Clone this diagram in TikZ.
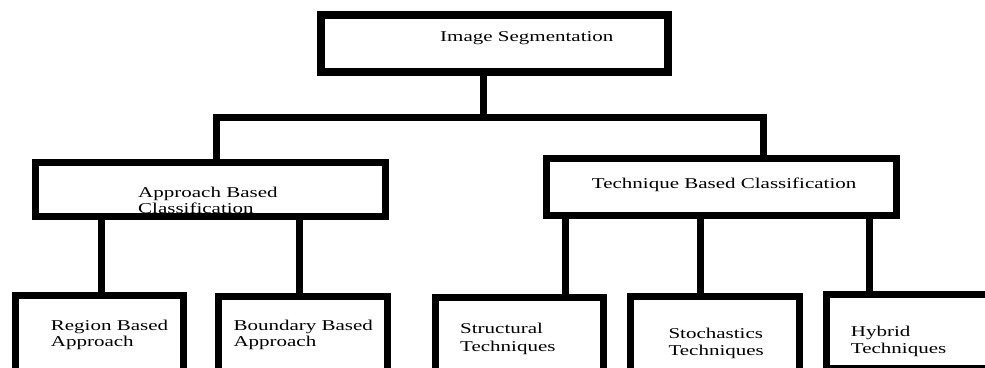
\documentclass[tikz,border=0pt]{standalone}
\usepackage{fontspec}
\setmainfont{Liberation Serif}
\newcommand{\wide}[1]{\scalebox{1.4}[1]{#1}}

\begin{document}
\begin{tikzpicture}[x=1pt,y=-1pt,
  box/.style={draw, line width=7pt, rectangle, inner sep=0pt, outer sep=0pt},
  conn/.style={line width=7pt, line join=miter},
  txt/.style={font=\fontsize{15}{16}\selectfont, align=left, inner sep=0pt, anchor=base west}]

\useasboundingbox (0,0) rectangle (985,367);
\clip (0,0) rectangle (985,367);

\node[box, line width=8pt, minimum width=347pt, minimum height=57pt] (seg) at (494.5,43.5) {};
\node[box, minimum width=350pt, minimum height=54pt] (app) at (210.5,189.5) {};
\node[box, minimum width=350pt, minimum height=57pt] (tec) at (721.5,187) {};
\node[box, minimum width=168pt, minimum height=76.5pt] (reg) at (99.5,333.75) {};
\node[box, minimum width=169pt, minimum height=75.5pt] (bnd) at (303,334.25) {};
\node[box, minimum width=168pt, minimum height=74.5pt] (str) at (519.5,334.75) {};
\node[box, minimum width=169pt, minimum height=75.5pt] (sto) at (715,334.25) {};
\node[box, minimum width=173.5pt, minimum height=74pt] (hyb) at (913.25,331.5) {};

\coordinate (jseg) at (483,117);
\coordinate (japp) at (216,117);
\coordinate (jtec) at (763,117);

\draw[conn] (seg.south -| jseg) -- (jseg);
\draw[conn] (app.north -| japp) -- (japp) -- (jtec) -- (tec.north -| jtec);
\foreach \x/\c in {101/reg, 299/bnd}
  \draw[conn] (\x,0 |- app.south) -- (\x,0 |- \c.north);
\foreach \x/\c in {565/str, 700/sto, 869/hyb}
  \draw[conn] (\x,0 |- tec.south) -- (\x,0 |- \c.north);

\node[txt] (segtxt) at (440,41.7) {\wide{Image Segmentation}};
\node[txt] (apptxt) at (138,213.7) {\wide{Approach Based}\\\wide{Classification}};
\node[txt] (tectxt) at (591.7,188.3) {\wide{Technique Based Classification}};
\node[txt] (regtxt) at (50.7,346) {\wide{Region Based}\\\wide{Approach}};
\node[txt] (bndtxt) at (233.3,346) {\wide{Boundary Based}\\\wide{Approach}};
\node[txt] (strtxt) at (460,351) {\wide{Structural}\\[2pt]\wide{Techniques}};
\node[txt] (stotxt) at (668.3,355) {\wide{Stochastics}\\[1pt]\wide{Techniques}};
\node[txt] (hybtxt) at (850.7,353) {\wide{Hybrid}\\[0.5pt]\wide{Techniques}};
\end{tikzpicture}
\end{document}
